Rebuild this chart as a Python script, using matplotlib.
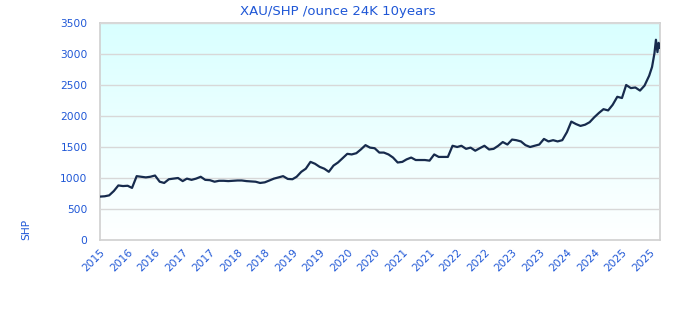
import numpy as np
import pandas as pd
import matplotlib
matplotlib.use('Agg')
from matplotlib import pyplot as plt
from matplotlib.colors import LinearSegmentedColormap

# monthly values Aug 2015 .. Aug 2025, then a few late points
months = pd.date_range('2015-08-01', '2025-08-01', freq='MS')
monthly = [700, 705, 720, 790, 880, 870, 875, 840, 1030, 1020,
           1010, 1020, 1040, 940, 920, 980, 990, 1000, 950, 990,
           970, 990, 1020, 970, 965, 940, 955, 955, 950, 955,
           960, 960, 950, 945, 940, 920, 930, 960, 990, 1010,
           1030, 985, 980, 1020, 1100, 1150, 1260, 1230, 1180, 1150,
           1100, 1200, 1250, 1320, 1390, 1380, 1400, 1460, 1530, 1490,
           1480, 1410, 1410, 1380, 1330, 1250, 1260, 1300, 1330, 1290,
           1290, 1290, 1280, 1380, 1340, 1340, 1340, 1520, 1500, 1520,
           1470, 1490, 1440, 1480, 1520, 1460, 1470, 1520, 1580, 1540,
           1620, 1610, 1590, 1530, 1500, 1520, 1540, 1630, 1590, 1610,
           1590, 1610, 1740, 1910, 1870, 1840, 1860, 1900, 1980, 2050,
           2110, 2090, 2180, 2310, 2290, 2500, 2450, 2460, 2410, 2490,
           2650]
tail_dates = pd.to_datetime(['2025-08-20', '2025-09-05', '2025-09-15',
                             '2025-09-25', '2025-10-03', '2025-10-10'])
tail_vals = [2790, 3010, 3230, 3030, 3180, 3100]

dates = months.append(tail_dates)
values = monthly + tail_vals

tick_dates = pd.date_range('2015-08-01', '2025-08-01', freq='6MS')
tick_labels = [str(d.year) for d in tick_dates]

blue = '#1f57d6'

fig = plt.figure(figsize=(6.8, 3.2), dpi=100)
ax = fig.add_axes([100/680, 80/320, 560/680, 217/320])

x0 = matplotlib.dates.date2num(pd.Timestamp('2015-08-01'))
x1 = matplotlib.dates.date2num(pd.Timestamp('2025-10-12'))
cmap = LinearSegmentedColormap.from_list('bg', ['#ffffff', '#d9ffff'])
grad = np.linspace(0, 1, 256).reshape(-1, 1)
ax.imshow(grad, cmap=cmap, origin='lower', aspect='auto',
          extent=[x0, x1, 0, 3500], zorder=0)

ax.plot(dates, values, color='#172b4d', lw=1.6, zorder=3)

ax.set_xlim(x0, x1)
ax.set_ylim(0, 3500)
ax.set_yticks(range(0, 3501, 500))
ax.yaxis.grid(True, color='#d8d8d8', lw=1)
ax.set_axisbelow(False)
for ln in ax.get_ygridlines():
    ln.set_zorder(1)

ax.set_xticks(tick_dates)
ax.set_xticklabels(tick_labels, rotation=45, ha='right', rotation_mode='anchor')
ax.tick_params(axis='both', length=0, labelsize=7.7, labelcolor=blue)
ax.tick_params(axis='y', pad=9)
ax.tick_params(axis='x', pad=5)

for s in ax.spines.values():
    s.set_color('#d0d0d0')
    s.set_linewidth(1.2)

fig.text(338/680, 1 - 11/320, 'XAU/SHP /ounce 24K 10years', color=blue,
         fontsize=9.5, ha='center', va='center')
fig.text(26/680, 1 - 229/320, 'SHP', color=blue, fontsize=7.7,
         rotation=90, ha='center', va='center')

fig.savefig('out.png', dpi=100)
